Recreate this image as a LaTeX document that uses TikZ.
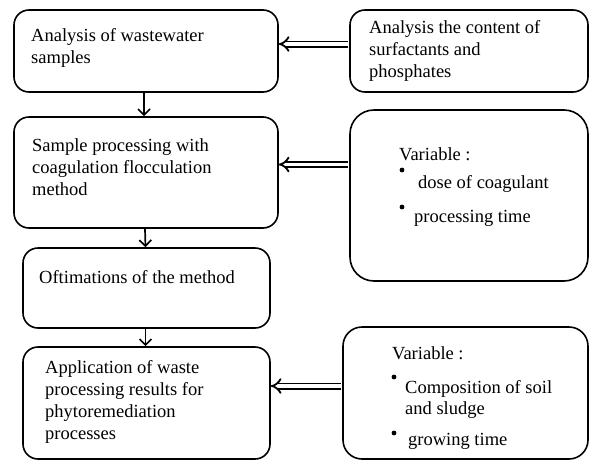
\documentclass[tikz,border=0pt]{standalone}
\usepackage{fontspec}
\setmainfont{Liberation Serif}
\usetikzlibrary{arrows.meta,positioning}
\tikzset{
  box/.style={draw=black,line width=1.6pt,rounded corners=15pt,inner sep=0pt},
  txt/.style={anchor=north west,align=left,inner sep=0pt,font=\fontsize{18.5}{22}\selectfont},
  dot/.style={circle,fill=black,inner sep=0pt,minimum size=4.8pt},
  down/.style={line width=1.7pt,-{Straight Barb[length=6pt,width=12pt]}},
  hollow/.style={double,double distance=3.4pt,line width=1.8pt,-{Implies[length=8pt,width=19pt]},shorten <=0.8pt}
}
\begin{document}
\begin{tikzpicture}[x=1pt,y=-1pt]
\useasboundingbox(0,0)rectangle(589,461);
%left column
\node[box,minimum width=264pt,minimum height=82pt] (analysis) at (146,51){};
\node[box,minimum width=264pt,minimum height=111pt] (processing) at (146,172.5){};
\node[box,minimum width=247pt,minimum height=80pt] (optim) at (146.5,288){};
\node[box,minimum width=247pt,minimum height=112pt] (application) at (146.5,403){};
%right column
\node[box,minimum width=238pt,minimum height=82pt] (content) at (469,51){};
\node[box,rounded corners=24pt,minimum width=238pt,minimum height=171pt] (var1) at (469,195.5){};
\node[box,rounded corners=19pt,minimum width=245pt,minimum height=132pt] (var2) at (465.5,393){};
%texts
\node[txt] (t1) at (31,28){Analysis of wastewater\\samples};
\node[txt] (t2) at (32,138){Sample processing with\\coagulation flocculation\\method};
\node[txt] (t3) at (39,270){Oftimations of the method};
\node[txt] (t4) at (45,360){Application of waste\\processing results for\\phytoremediation\\processes};
\node[txt] (t5) at (369,20){Analysis the content of\\surfactants and\\phosphates};
\node[txt] (t6) at (399,147){Variable :\\[6pt]
\hspace*{19pt}dose of coagulant\\[12pt]
\hspace*{15pt}processing time};
\node[txt] (t7) at (392,346){Variable :\\[12pt]
\hspace*{13pt}Composition of soil\\[-1pt]
\hspace*{13pt}and sludge\\[9pt]
\hspace*{16pt}growing time};
%bullets
\node[dot] (b1) at (402,170){};
\node[dot] (b2) at (402,207){};
\node[dot] (b3) at (394,377){};
\node[dot] (b4) at (394,433){};
%flow
\draw[down]([xshift=-2pt]analysis.south)--([xshift=-2pt]processing.north);
\draw[down]([xshift=-1pt]processing.south)--([xshift=-1pt]optim.north);
\draw[down]([xshift=-1pt]optim.south)--([xshift=-1pt]application.north);
%inputs
\draw[hollow]([yshift=7pt]content.west)--([yshift=7pt]analysis.east);
\draw[hollow]([yshift=8pt]processing.east-|var1.west)--([yshift=8pt]processing.east);
\draw[hollow]([yshift=17pt]application.east-|var2.west)--([yshift=17pt]application.east);
\end{tikzpicture}
\end{document}
